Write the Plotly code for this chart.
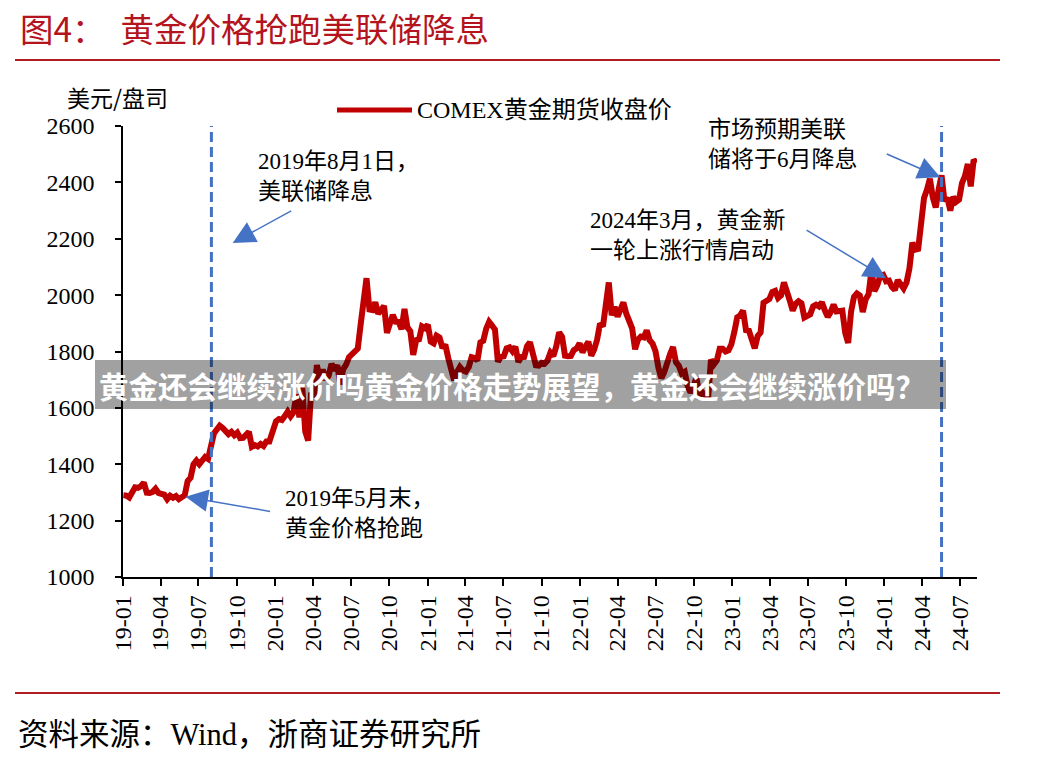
import pandas as pd
import plotly.graph_objects as go

# ---------------- data (weekly COMEX gold futures close, USD/oz) ----------------
gold_2019 = [1290, 1289, 1282, 1298, 1318, 1316, 1322, 1335, 1299, 1298, 1302, 1313, 1298,
             1295, 1292, 1276, 1288, 1281, 1287, 1276, 1284, 1290, 1340, 1352, 1400, 1413,
             1400, 1415, 1426, 1419, 1457, 1509, 1523, 1537, 1529, 1515, 1507, 1515, 1503,
             1512, 1493, 1494, 1505, 1515, 1462, 1468, 1463, 1472, 1465, 1481, 1481, 1515]
gold_2020 = [1552, 1560, 1557, 1571, 1587, 1570, 1584, 1648, 1566, 1672, 1516, 1484, 1654,
             1637, 1752, 1698, 1736, 1700, 1713, 1756, 1734, 1751, 1683, 1737, 1753, 1780,
             1790, 1801, 1810, 1897, 1986, 2060, 1949, 1947, 1975, 1934, 1947, 1962, 1866,
             1900, 1930, 1906, 1905, 1879, 1951, 1886, 1872, 1788, 1840, 1843, 1889, 1883]
gold_2021 = [1895, 1835, 1829, 1856, 1850, 1813, 1824, 1777, 1728, 1698, 1727, 1745, 1733,
             1729, 1744, 1780, 1777, 1768, 1832, 1838, 1881, 1905, 1892, 1878, 1764, 1781,
             1783, 1811, 1815, 1801, 1817, 1763, 1780, 1781, 1819, 1833, 1792, 1751, 1750,
             1760, 1757, 1768, 1796, 1784, 1818, 1868, 1852, 1785, 1783, 1784, 1805, 1811, 1829]
gold_2022 = [1797, 1817, 1835, 1785, 1807, 1842, 1899, 1889, 1969, 2045, 1929, 1958, 1924,
             1945, 1974, 1934, 1911, 1882, 1808, 1842, 1853, 1850, 1875, 1840, 1828, 1801,
             1742, 1705, 1727, 1768, 1791, 1816, 1762, 1749, 1722, 1728, 1677, 1655, 1672,
             1709, 1648, 1656, 1645, 1630, 1771, 1754, 1768, 1810, 1810, 1800, 1804, 1826]
gold_2023 = [1869, 1921, 1928, 1945, 1876, 1874, 1842, 1811, 1855, 1867, 1973, 1983, 1986,
             2011, 2015, 1990, 1999, 2045, 2019, 1981, 1945, 1969, 1978, 1971, 1921, 1929,
             1932, 1960, 1966, 1960, 1975, 1946, 1923, 1940, 1966, 1942, 1946, 1945, 1866,
             1830, 1941, 1994, 2006, 1999, 1940, 1985, 2003, 2089, 2014, 2035, 2069, 2072]
gold_2024 = [2049, 2051, 2029, 2018, 2053, 2038, 2024, 2045, 2095, 2186, 2161, 2164, 2238,
             2345, 2374, 2413, 2347, 2311, 2375, 2425, 2334, 2345, 2300, 2349, 2331, 2339,
             2397, 2422, 2465, 2386, 2480, 2470]
year_starts = {"2019": "2019-01-02", "2020": "2020-01-03", "2021": "2021-01-01",
               "2022": "2022-01-07", "2023": "2023-01-06", "2024": "2024-01-05"}

series_name = "COMEX黄金期货收盘价"
event_dates = ["2019-08-01", "2024-05-17"]
y_ticks = [1000, 1200, 1400, 1600, 1800, 2000, 2200, 2400, 2600]
x_range = ["2019-01-01", "2024-08-10"]

title_text = "图4：  黄金价格抢跑美联储降息"
source_text = "资料来源：Wind，浙商证券研究所"
unit_text = "美元/盘司"
banner_text = "黄金还会继续涨价吗黄金价格走势展望，黄金还会继续涨价吗？"
notes = [
    ("2019年8月1日，<br>美联储降息", "2019-09-21", 2185),
    ("2019年5月末，<br>黄金价格抢跑", "2019-05-31", 1285),
    ("2024年3月，黄金新<br>一轮上涨行情启动", "2024-01-05", 2060),
    ("市场预期美联<br>储将于6月降息", "2024-05-14", 2418),
]

# ---------------- build ----------------
dates, values = [], []
for yr, vals in zip(year_starts, [gold_2019, gold_2020, gold_2021, gold_2022, gold_2023, gold_2024]):
    start = pd.Timestamp(year_starts[yr])
    for i, v in enumerate(vals):
        dates.append(start + pd.Timedelta(days=7 * i))
        values.append(v)

W, H = 1042, 771
PL, PR, PT, PB = 123, 977, 126, 577
RED = "#C00000"
BLUE = "#4472C4"
SERIF = "Liberation Serif, Noto Sans CJK SC, serif"
CJK = "Noto Sans CJK SC, sans-serif"


def px(x):
    return (x - PL) / (PR - PL)


def py(y):
    return (PB - y) / (PB - PT)


fig = go.Figure()
fig.add_trace(go.Scatter(x=dates, y=values, mode="lines", name=series_name,
                         line=dict(color=RED, width=6), showlegend=False))

shapes = []
for d in event_dates:
    shapes.append(dict(type="line", xref="x", yref="paper", x0=d, x1=d, y0=0, y1=1,
                       line=dict(color=BLUE, width=3, dash="10px,5px")))
# legend sample
shapes.append(dict(type="line", xref="paper", yref="paper", x0=px(337), x1=px(412),
                   y0=py(110), y1=py(110), line=dict(color=RED, width=5)))
# header / footer rules
for yy in (60, 693):
    shapes.append(dict(type="line", xref="paper", yref="paper", x0=px(15), x1=px(1000),
                       y0=py(yy), y1=py(yy), line=dict(color="#B01E23", width=2)))
# banner
shapes.append(dict(type="rect", xref="paper", yref="paper", x0=px(95), x1=px(946),
                   y0=py(409), y1=py(360), fillcolor="rgba(0,0,0,0.37)", line=dict(width=0),
                   layer="above"))

ann = []
ann.append(dict(text=title_text, xref="paper", yref="paper", x=px(18), y=py(27),
                xanchor="left", yanchor="middle", showarrow=False,
                font=dict(family=CJK, size=33.5, color="#B4141E")))
ann.append(dict(text=source_text, xref="paper", yref="paper", x=px(16), y=py(735),
                xanchor="left", yanchor="middle", showarrow=False,
                font=dict(family=SERIF, size=30.5, color="black")))
ann.append(dict(text=unit_text, xref="paper", yref="paper", x=px(65), y=py(97),
                xanchor="left", yanchor="middle", showarrow=False,
                font=dict(family=CJK, size=23, color="black")))
ann.append(dict(text=series_name, xref="paper", yref="paper", x=px(415), y=py(110),
                xanchor="left", yanchor="middle", showarrow=False,
                font=dict(family=SERIF, size=24, color="black")))
ann.append(dict(text=banner_text, xref="paper", yref="paper", x=px(512), y=py(385),
                xanchor="center", yanchor="middle", showarrow=False,
                font=dict(family=CJK, size=29.5, color="white", weight="bold")))

text_pos = [(256, 177), (283, 513), (588, 235), (706, 144)]
arrow_off = [(60, -33), (86, 15), (-81, -49), (-55, -24)]
for (txt, xd, yv), (tx, ty), (ax, ay) in zip(notes, text_pos, arrow_off):
    ann.append(dict(text=txt, xref="paper", yref="paper", x=px(tx), y=py(ty),
                    xanchor="left", yanchor="middle", align="left", showarrow=False,
                    font=dict(family=SERIF, size=23, color="black")))
    ann.append(dict(text="", x=xd, y=yv, xref="x", yref="y", showarrow=True,
                    ax=ax, ay=ay, arrowhead=2, arrowsize=3, arrowwidth=1.5,
                    arrowcolor=BLUE, standoff=0))

fig.update_layout(
    width=W, height=H,
    margin=dict(l=PL, r=W - PR, t=PT, b=H - PB),
    paper_bgcolor="white", plot_bgcolor="white",
    shapes=shapes, annotations=ann,
    xaxis=dict(type="date", range=x_range, tick0="2019-01-01", dtick="M3",
               tickformat="%y-%m", tickangle=-90, showgrid=False, zeroline=False,
               showline=True, linecolor="black", linewidth=1.5,
               ticks="outside", ticklen=7, tickwidth=1.5, tickcolor="black",
               tickfont=dict(family=SERIF, size=24, color="black")),
    yaxis=dict(range=[1000, 2600], tickvals=y_ticks, showgrid=False, zeroline=False,
               showline=True, linecolor="black", linewidth=1.5,
               ticks="outside", ticklen=6, tickwidth=1.5, tickcolor="black",
               ticklabelstandoff=16,
               tickfont=dict(family=SERIF, size=24, color="black")),
)

fig.write_html("out.html", config={"displayModeBar": False},
               post_script="document.body.style.margin='0';document.body.style.overflow='hidden';")
